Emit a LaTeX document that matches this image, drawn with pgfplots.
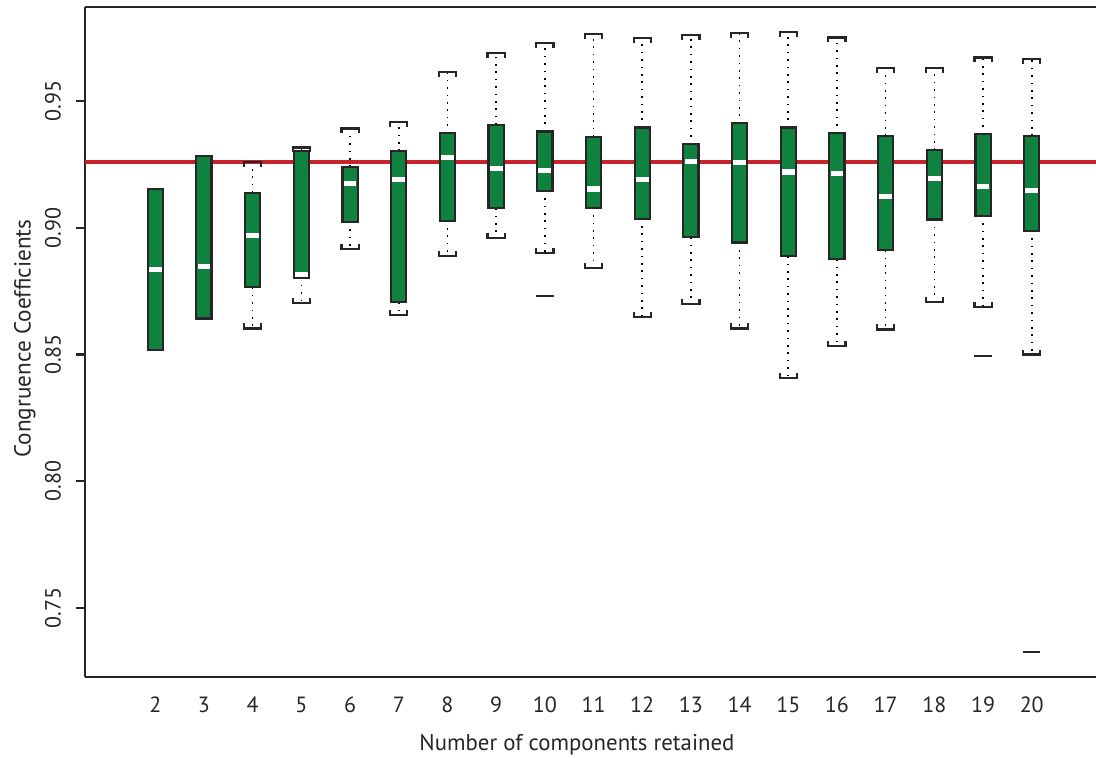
\documentclass[border=0pt]{standalone}
\usepackage{fontspec}
\setmainfont{PT Sans}
\setsansfont{PT Sans}
\usepackage{pgfplots}
\usepackage{pgfplotstable}
\pgfplotsset{compat=1.18}
\definecolor{boxgreen}{RGB}{16,130,64}
\definecolor{refred}{RGB}{200,34,42}
\pgfdeclareplotmark{capdown}{%
  \pgfpathmoveto{\pgfqpoint{-4.3pt}{-2.5pt}}%
  \pgfpathlineto{\pgfqpoint{-4.3pt}{0pt}}%
  \pgfpathlineto{\pgfqpoint{4.3pt}{0pt}}%
  \pgfpathlineto{\pgfqpoint{4.3pt}{-2.5pt}}%
  \pgfusepathqstroke}
\pgfdeclareplotmark{capup}{%
  \pgfpathmoveto{\pgfqpoint{-4.3pt}{2.5pt}}%
  \pgfpathlineto{\pgfqpoint{-4.3pt}{0pt}}%
  \pgfpathlineto{\pgfqpoint{4.3pt}{0pt}}%
  \pgfpathlineto{\pgfqpoint{4.3pt}{2.5pt}}%
  \pgfusepathqstroke}
% x  lower whisker, lower quartile, median, upper quartile, upper whisker
\pgfplotstableread{
x  lw     q1     med    q3     uw
2  0.8517 0.8517 0.8836 0.9153 0.9153
3  0.8642 0.8642 0.8848 0.9284 0.9284
4  0.8603 0.8765 0.8970 0.9138 0.9258
5  0.8702 0.8804 0.8817 0.9303 0.9317
6  0.8916 0.9024 0.9176 0.9240 0.9392
7  0.8655 0.8706 0.9189 0.9303 0.9418
8  0.8888 0.9028 0.9276 0.9373 0.9616
9  0.8961 0.9077 0.9234 0.9406 0.9691
10 0.8901 0.9146 0.9225 0.9380 0.9729
11 0.8840 0.9079 0.9153 0.9359 0.9763
12 0.8649 0.9036 0.9192 0.9396 0.9750
13 0.8698 0.8963 0.9263 0.9330 0.9759
14 0.8603 0.8942 0.9258 0.9412 0.9767
15 0.8408 0.8888 0.9220 0.9396 0.9771
16 0.8533 0.8876 0.9213 0.9373 0.9751
17 0.8599 0.8912 0.9122 0.9362 0.9629
18 0.8708 0.9033 0.9195 0.9307 0.9631
19 0.8689 0.9047 0.9162 0.9369 0.9672
20 0.8500 0.8988 0.9148 0.9362 0.9665
}\boxdata
\begin{document}
\begin{tikzpicture}
\begin{axis}[
  scale only axis,
  width=505.5pt, height=335.15pt,
  xmin=0.5562, xmax=21.32,
  ymin=0.72281, ymax=0.98721,
  axis x line*=box, axis y line*=left,
  axis line style={line width=1.1pt, black!85},
  xtick={2,...,20},
  xtick style={draw=none},
  ytick={0.75,0.80,0.85,0.90,0.95},
  tick align=outside,
  major tick length=4.5pt,
  ytick style={line width=1.1pt, black!85},
  /pgf/number format/assume math mode=true,
  yticklabel style={/pgf/number format/.cd, fixed, fixed zerofill, precision=2, /tikz/.cd, xshift=-11.5pt, rotate=90, anchor=center},
  xticklabel style={anchor=center, yshift=-9.5pt},
  every tick label/.append style={font=\fontsize{11}{13}\selectfont, black!85},
  xlabel={Number of components retained},
  ylabel={Congruence Coefficients},
  xlabel style={at={(axis description cs:0.4866,-0.101)}, anchor=center, font=\fontsize{11.4}{13}\selectfont, black!85},
  ylabel style={at={(axis description cs:-0.0595,0.505)}, anchor=center, font=\fontsize{11.6}{13}\selectfont, black!85},
]
% reference line
\addplot[refred, line width=1.7pt, mark=none] coordinates {(0.5562,0.926) (21.32,0.926)};
% dotted whiskers
\addplot[draw=none, mark=none, error bars/.cd, y dir=plus, y explicit, error mark=none,
  error bar style={draw=black, solid, line width=0.8pt, dash pattern=on 0.8pt off 2.9pt}]
  table[x=x, y=q3, y error expr=\thisrow{uw}-\thisrow{q3}] {\boxdata};
\addplot[draw=none, mark=none, error bars/.cd, y dir=minus, y explicit, error mark=none,
  error bar style={draw=black, solid, line width=0.8pt, dash pattern=on 0.8pt off 2.9pt}]
  table[x=x, y=q1, y error expr=\thisrow{q1}-\thisrow{lw}] {\boxdata};
% whisker caps
\addplot[only marks, mark=capdown, restrict x to domain=3.5:20.5, mark options={draw=black!85, line width=1.1pt, solid}] table[x=x, y=uw] {\boxdata};
\addplot[only marks, mark=capup, restrict x to domain=3.5:20.5, mark options={draw=black!85, line width=1.1pt, solid}] table[x=x, y=lw] {\boxdata};
% boxes: outline
\addplot[draw=none, mark=none, error bars/.cd, y dir=plus, y explicit, error mark=none,
  error bar style={draw=black!85, solid, line width=8.7pt, shorten <=-0.55pt, shorten >=-0.55pt}]
  table[x=x, y=q1, y error expr=\thisrow{q3}-\thisrow{q1}] {\boxdata};
% boxes: green fill
\addplot[draw=none, mark=none, error bars/.cd, y dir=plus, y explicit, error mark=none,
  error bar style={draw=boxgreen, solid, line width=6.5pt, shorten <=0.55pt, shorten >=0.55pt}]
  table[x=x, y=q1, y error expr=\thisrow{q3}-\thisrow{q1}] {\boxdata};
% medians
\addplot[only marks, mark=-, mark size=3.2pt, mark options={draw=white, line width=2.6pt, solid}] table[x=x, y=med] {\boxdata};
% outliers
\addplot[only marks, mark=-, mark size=4.35pt, mark options={draw=black!85, line width=1.1pt, solid}] coordinates {(10,0.8730) (19,0.8495) (20,0.7326)};
\end{axis}
\pgfresetboundingbox
\path (-42.5pt,-40.15pt) rectangle (505.5pt,338.5pt);
\end{tikzpicture}
\end{document}
